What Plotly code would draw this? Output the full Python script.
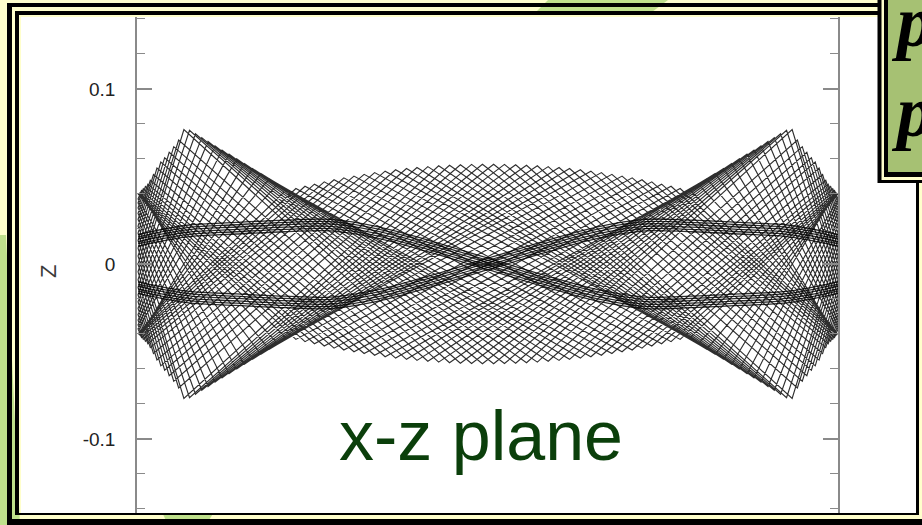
import plotly.graph_objects as go

# ---------------------------------------------------------------- data
# z-axis ticks
Z_TICK_VALUES = [-0.1, 0.0, 0.1]
Z_TICK_TEXT = ["-0.1", "0", "0.1"]

# orbit in the x-z plane: vertical turning points, plus the points where
# the orbit reaches its radial extent (x = -1 or x = +1)
ORBIT_X = [
    -1.000, -0.600, 0.264, 0.924, 1.000, 0.869, 0.141, -0.696, -0.994, -0.523,
    0.354, 0.956, 1.000, 0.818, 0.047, -0.760, -1.000, -0.979, -0.440, 0.440,
    0.979, 1.000, 0.760, -0.047, -0.818, -1.000, -0.956, -0.354, 0.523, 0.994,
    0.696, -0.141, -0.869, -1.000, -0.924, -0.264, 0.600, 1.000, 0.625, -0.233,
    -0.911, -1.000, -0.884, -0.172, 0.673, 0.997, 0.549, -0.324, -0.946, -1.000,
    -0.836, -0.079, 0.740, 1.000, 0.985, 0.468, -0.412, -0.972, -1.000, -0.780,
    0.016, 0.800, 1.000, 0.965, 0.383, -0.496, -0.990, -1.000, -0.718, 0.110,
    0.853, 1.000, 0.935, 0.294, -0.575, -0.999, -0.649, 0.203, 0.898, 1.000,
    0.898, 0.203, -0.649, -0.999, -0.575, 0.294, 0.935, 1.000, 0.853, 0.110,
    -0.718, -1.000, -0.990, -0.496, 0.383, 0.965, 1.000, 0.800, 0.016, -0.780,
    -1.000, -0.972, -0.412, 0.468, 0.985, 1.000, 0.740, -0.079, -0.836, -1.000,
    -0.946, -0.324, 0.549, 0.997, 0.673, -0.172, -0.884, -1.000, -0.911, -0.233,
    0.625,
    1.000, 0.600, -0.264, -0.924, -1.000, -0.869, -0.141, 0.696, 0.994, 0.523,
    -0.354, -0.956, -1.000, -0.818, -0.047, 0.760, 1.000, 0.979, 0.440, -0.440,
    -0.979, -1.000, -0.760, 0.047, 0.818, 1.000, 0.956, 0.354, -0.523, -0.994,
    -0.696, 0.141, 0.869, 1.000, 0.924, 0.264, -0.600, -1.000, -0.625, 0.233,
    0.911, 1.000, 0.884, 0.172, -0.673, -0.997, -0.549, 0.324, 0.946, 1.000,
    0.836, 0.079, -0.740, -1.000, -0.985, -0.468, 0.412, 0.972, 1.000, 0.780,
    -0.016, -0.800, -1.000, -0.965, -0.383, 0.496, 0.990, 1.000, 0.718, -0.110,
    -0.853, -1.000, -0.935, -0.294, 0.575, 0.999, 0.649, -0.203, -0.898, -1.000,
    -0.898, -0.203, 0.649, 0.999, 0.575, -0.294, -0.935, -1.000, -0.853, -0.110,
    0.718, 1.000, 0.990, 0.496, -0.383, -0.965, -1.000, -0.800, -0.016, 0.780,
    1.000, 0.972, 0.412, -0.468, -0.985, -1.000, -0.740, 0.079, 0.836, 1.000,
    0.946, 0.324, -0.549, -0.997, -0.673, 0.172, 0.884, 1.000, 0.911, 0.233,
    -0.625,
    -1.000,
]
ORBIT_Z = [
    0.0400, -0.0457, 0.0538, -0.0607, -0.0090, 0.0768, -0.0561, 0.0573, -0.0412, 0.0444,
    -0.0512, 0.0511, 0.0216, -0.0722, 0.0569, -0.0651, 0.0320, 0.0442, -0.0481, 0.0481,
    -0.0442, -0.0320, 0.0651, -0.0569, 0.0722, -0.0216, -0.0511, 0.0512, -0.0444, 0.0412,
    -0.0573, 0.0561, -0.0768, 0.0090, 0.0607, -0.0538, 0.0457, -0.0400, 0.0487, -0.0545,
    0.0638, 0.0045, -0.0708, 0.0556, -0.0545, 0.0406, -0.0431, 0.0522, -0.0548, -0.0176,
    0.0744, -0.0567, 0.0627, -0.0348, -0.0430, 0.0469, -0.0492, 0.0456, 0.0289, -0.0675,
    0.0570, -0.0700, 0.0254, 0.0478, -0.0502, 0.0456, -0.0420, -0.0371, 0.0600, -0.0564,
    0.0764, -0.0134, -0.0582, 0.0530, -0.0426, 0.0402, -0.0516, 0.0551, -0.0670, 0.0000,
    0.0670, -0.0551, 0.0516, -0.0402, 0.0426, -0.0530, 0.0582, 0.0134, -0.0764, 0.0564,
    -0.0600, 0.0371, 0.0420, -0.0456, 0.0502, -0.0478, -0.0254, 0.0700, -0.0570, 0.0675,
    -0.0289, -0.0456, 0.0492, -0.0469, 0.0430, 0.0348, -0.0627, 0.0567, -0.0744, 0.0176,
    0.0548, -0.0522, 0.0431, -0.0406, 0.0545, -0.0556, 0.0708, -0.0045, -0.0638, 0.0545,
    -0.0487,
    0.0400, -0.0457, 0.0538, -0.0607, -0.0090, 0.0768, -0.0561, 0.0573, -0.0412, 0.0444,
    -0.0512, 0.0511, 0.0216, -0.0722, 0.0569, -0.0651, 0.0320, 0.0442, -0.0481, 0.0481,
    -0.0442, -0.0320, 0.0651, -0.0569, 0.0722, -0.0216, -0.0511, 0.0512, -0.0444, 0.0412,
    -0.0573, 0.0561, -0.0768, 0.0090, 0.0607, -0.0538, 0.0457, -0.0400, 0.0487, -0.0545,
    0.0638, 0.0045, -0.0708, 0.0556, -0.0545, 0.0406, -0.0431, 0.0522, -0.0548, -0.0176,
    0.0744, -0.0567, 0.0627, -0.0348, -0.0430, 0.0469, -0.0492, 0.0456, 0.0289, -0.0675,
    0.0570, -0.0700, 0.0254, 0.0478, -0.0502, 0.0456, -0.0420, -0.0371, 0.0600, -0.0564,
    0.0764, -0.0134, -0.0582, 0.0530, -0.0426, 0.0402, -0.0516, 0.0551, -0.0670, 0.0000,
    0.0670, -0.0551, 0.0516, -0.0402, 0.0426, -0.0530, 0.0582, 0.0134, -0.0764, 0.0564,
    -0.0600, 0.0371, 0.0420, -0.0456, 0.0502, -0.0478, -0.0254, 0.0700, -0.0570, 0.0675,
    -0.0289, -0.0456, 0.0492, -0.0469, 0.0430, 0.0348, -0.0627, 0.0567, -0.0744, 0.0176,
    0.0548, -0.0522, 0.0431, -0.0406, 0.0545, -0.0556, 0.0708, -0.0045, -0.0638, 0.0545,
    -0.0487,
    0.0400,
]

# dense strands of the orbit that build the two crossing dark bands
BAND_X = [-1.0, -0.86, -0.72, -0.58, -0.45, -0.31, -0.17, 0.0,
          0.17, 0.31, 0.45, 0.58, 0.72, 0.86, 1.0]
BAND_DOWN_STRANDS = [
    [0.0168, 0.0221, 0.0237, 0.0250, 0.0255, 0.0211, 0.0135, 0.0033,
     -0.0069, -0.0145, -0.0189, -0.0184, -0.0171, -0.0155, -0.0102],
    [0.0155, 0.0208, 0.0224, 0.0237, 0.0242, 0.0198, 0.0122, 0.0020,
     -0.0082, -0.0158, -0.0202, -0.0197, -0.0184, -0.0168, -0.0115],
    [0.0142, 0.0195, 0.0211, 0.0224, 0.0229, 0.0185, 0.0109, 0.0007,
     -0.0095, -0.0171, -0.0215, -0.0210, -0.0197, -0.0181, -0.0128],
    [0.0128, 0.0181, 0.0197, 0.0210, 0.0215, 0.0171, 0.0095, -0.0007,
     -0.0109, -0.0185, -0.0229, -0.0224, -0.0211, -0.0195, -0.0142],
    [0.0115, 0.0168, 0.0184, 0.0197, 0.0202, 0.0158, 0.0082, -0.0020,
     -0.0122, -0.0198, -0.0242, -0.0237, -0.0224, -0.0208, -0.0155],
    [0.0102, 0.0155, 0.0171, 0.0184, 0.0189, 0.0145, 0.0069, -0.0033,
     -0.0135, -0.0211, -0.0255, -0.0250, -0.0237, -0.0221, -0.0168],
]
BAND_UP_STRANDS = [
    [-0.0168, -0.0221, -0.0237, -0.0250, -0.0255, -0.0211, -0.0135, -0.0033,
     0.0069, 0.0145, 0.0189, 0.0184, 0.0171, 0.0155, 0.0102],
    [-0.0155, -0.0208, -0.0224, -0.0237, -0.0242, -0.0198, -0.0122, -0.0020,
     0.0082, 0.0158, 0.0202, 0.0197, 0.0184, 0.0168, 0.0115],
    [-0.0142, -0.0195, -0.0211, -0.0224, -0.0229, -0.0185, -0.0109, -0.0007,
     0.0095, 0.0171, 0.0215, 0.0210, 0.0197, 0.0181, 0.0128],
    [-0.0128, -0.0181, -0.0197, -0.0210, -0.0215, -0.0171, -0.0095, 0.0007,
     0.0109, 0.0185, 0.0229, 0.0224, 0.0211, 0.0195, 0.0142],
    [-0.0115, -0.0168, -0.0184, -0.0197, -0.0202, -0.0158, -0.0082, 0.0020,
     0.0122, 0.0198, 0.0242, 0.0237, 0.0224, 0.0208, 0.0155],
    [-0.0102, -0.0155, -0.0171, -0.0184, -0.0189, -0.0145, -0.0069, 0.0033,
     0.0135, 0.0211, 0.0255, 0.0250, 0.0237, 0.0221, 0.0168],
]

PLANE_LABEL = "x-z plane"
AXIS_LABEL = "Z"
BOX_LINES = ["p", "p"]

# ---------------------------------------------------------------- page geometry
W, H = 922, 525


def px(xp):
    return xp / W


def py(yp):
    return 1 - yp / H


def rect(x0, y0, x1, y1, color, layer="below"):
    return dict(type="rect", xref="paper", yref="paper",
                x0=px(x0), x1=px(x1), y0=py(y1), y1=py(y0),
                fillcolor=color, line=dict(width=0), layer=layer)


def poly(points, color, layer="below"):
    d = "M " + " L ".join(f"{px(a):.5f},{py(b):.5f}" for a, b in points) + " Z"
    return dict(type="path", xref="paper", yref="paper", path=d,
                fillcolor=color, line=dict(width=0), layer=layer)


PAGE = "#FFFFCC"
SWOOSH = "#BFE08C"
INK = "#000000"
LINE = "rgba(0,0,0,0.82)"
AXIS_GREY = "#8a8a8a"

fig = go.Figure()

fig.add_trace(go.Scatter(
    x=ORBIT_X, y=ORBIT_Z, mode="lines",
    line=dict(color=LINE, width=1.15), hoverinfo="skip", showlegend=False,
))
for strand in BAND_DOWN_STRANDS + BAND_UP_STRANDS:
    fig.add_trace(go.Scatter(
        x=BAND_X, y=strand, mode="lines", line_shape="spline",
        line=dict(color=LINE, width=1.3), hoverinfo="skip", showlegend=False,
    ))

shapes = [
    # light green sweeps of the slide background
    poly([(0, 235), (6, 235), (20, 525), (0, 525)], SWOOSH),
    poly([(548, 0), (668, 0), (652, 12), (536, 12)], SWOOSH),
    poly([(162, 512), (214, 512), (206, 525), (168, 525)], SWOOSH),
    # slide frame: outer rule
    rect(7, 3, 12, 540, INK),
    rect(7, 3, 940, 7, INK),
    rect(7, 519, 940, 540, INK),
    # inner rule
    rect(15, 11, 19, 515, INK),
    rect(15, 11, 919, 15, INK),
    rect(916, 11, 919, 515, INK),
    rect(15, 513, 919, 515, INK),
    # white panel
    rect(21, 17, 916, 513, "#FFFFFF"),
    # title box in the corner
    rect(877.5, -5, 940, 183, INK, "above"),
    rect(881.5, -5, 940, 180, PAGE, "above"),
    rect(884, -5, 940, 177, INK, "above"),
    rect(888, -5, 940, 172, "#A6C173", "above"),
]

annotations = [
    dict(text=AXIS_LABEL, xref="paper", yref="paper", x=px(48), y=py(272),
         xanchor="center", yanchor="middle", textangle=-90, showarrow=False,
         font=dict(family="Liberation Sans", size=22, color="#3a3a3a")),
    dict(text=PLANE_LABEL, xref="paper", yref="paper", x=px(481), y=py(436),
         xanchor="center", yanchor="middle", showarrow=False,
         font=dict(family="Liberation Sans", size=70, color="#0B3F0B")),
]
for i, line in enumerate(BOX_LINES):
    annotations.append(dict(
        text=f"<b><i>{line}</i></b>", xref="paper", yref="paper",
        x=px(889), y=py(22 + 90 * i), xanchor="left", yanchor="middle",
        showarrow=False,
        font=dict(family="Liberation Serif", size=72, color="#000000")))

fig.update_layout(
    width=W, height=H,
    margin=dict(l=0, r=0, t=0, b=0),
    paper_bgcolor=PAGE,
    plot_bgcolor="rgba(0,0,0,0)",
    shapes=shapes,
    annotations=annotations,
    showlegend=False,
    xaxis=dict(domain=[px(137), px(838)], range=[-1.003, 1.0],
               visible=False, fixedrange=True),
    yaxis=dict(domain=[py(513), py(17)], range=[-0.1423, 0.1411],
               showgrid=False, zeroline=False,
               showline=True, linecolor=AXIS_GREY, linewidth=1.5, mirror="ticks",
               ticks="inside", ticklen=15, tickwidth=1.5, tickcolor=AXIS_GREY,
               tickmode="array", tickvals=Z_TICK_VALUES, ticktext=Z_TICK_TEXT,
               ticklabelstandoff=16,
               tickfont=dict(family="Liberation Sans", size=19, color="#222222"),
               minor=dict(ticks="inside", ticklen=8, tickwidth=1.3,
                          tickcolor=AXIS_GREY, tickmode="linear",
                          tick0=0, dtick=0.02),
               fixedrange=True),
)

fig.write_html("out.html")
